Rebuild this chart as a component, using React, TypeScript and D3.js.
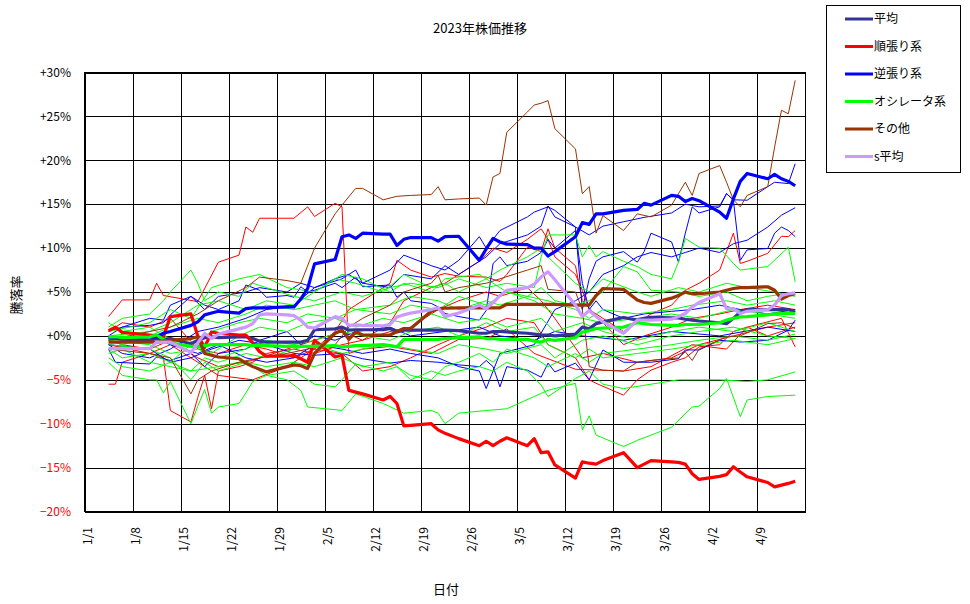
import * as d3 from 'd3';
import { useEffect, useRef } from 'react';

type Pt = [string, number];

// trading days (Tokyo market) covered by the chart
const tradingDays = [
  '1/4', '1/5', '1/6', '1/10', '1/11', '1/12', '1/13', '1/16', '1/17', '1/18', '1/19', '1/20', '1/23', '1/24', '1/25', '1/26', '1/27', '1/30', '1/31',
  '2/1', '2/2', '2/3', '2/6', '2/7', '2/8', '2/9', '2/10', '2/13', '2/14', '2/15', '2/16', '2/17', '2/20', '2/21', '2/22', '2/24', '2/27', '2/28',
  '3/1', '3/2', '3/3', '3/6', '3/7', '3/8', '3/9', '3/10', '3/13', '3/14', '3/15', '3/16', '3/17', '3/20', '3/22', '3/23', '3/24', '3/27', '3/28', '3/29', '3/30', '3/31',
  '4/3', '4/4', '4/5', '4/6', '4/7', '4/10', '4/11', '4/12', '4/13', '4/14',
];

// group averages (%), one value per trading day
const avgAll = [
  -0.2, -0.3, -0.4, -0.5, -0.3, -0.4, -0.3, -0.9, -0.5, -0.2, -0.1, -0.2, -0.1, -0.1, -0.3, -0.6, -0.7, -0.7, -0.7,
  -0.7, -0.5, 0.7, 0.8, 1.0, 0.65, 0.7, 0.7, 0.7, 0.84, 0.46, 0.65, 0.65, 0.65, 0.65, 0.65, 0.6, 0.3, 0.3,
  0.5, 0.5, 0.45, 0.3, 0.2, 0.1, 0.1, 0.0, 0.2, 1.0, 0.8, 1.4, 1.6, 2.1, 1.8, 2.0, 2.1, 2.05, 2.05, 1.9, 1.8, 1.7,
  1.5, 1.4, 2.0, 2.7, 3.0, 3.0, 3.0, 3.0, 3.0, 2.7,
];
const avgTrend = [
  0.6, 1.0, 0.4, 0.1, 0.0, -0.1, 2.2, 2.5, 0.0, -1.3, 0.45, 0.3, 0.1, 0.1, -0.8, -1.8, -2.3, -2.3, -2.2,
  -2.6, -3.0, -0.5, -2.4, -2.2, -6.2, -6.4, -6.6, -7.3, -6.9, -7.7, -10.25, -10.2, -10.0, -10.7, -11.1, -11.7, -12.5, -12.0,
  -12.5, -12.0, -11.6, -12.5, -11.7, -13.3, -13.2, -14.7, -16.2, -14.35, -14.5, -14.6, -14.2, -13.3, -15.0, -14.6, -14.2, -14.35, -14.4, -14.6, -15.7, -16.35,
  -16.0, -15.8, -14.9, -15.5, -16.05, -16.7, -17.2, -17.0, -16.8, -16.55,
];
const avgContra = [
  -0.2, -0.2, -0.2, -0.1, -0.1, 0.3, 0.5, 1.2, 1.6, 2.4, 2.6, 2.8, 2.6, 3.1, 3.2, 3.2, 3.2, 3.3, 3.3,
  4.2, 5.4, 8.2, 8.7, 11.3, 11.5, 11.1, 11.7, 11.6, 11.6, 10.3, 11.0, 11.2, 11.2, 10.8, 11.3, 11.35, 8.6, 9.9,
  11.1, 10.7, 10.45, 10.4, 10.0, 10.0, 9.1, 9.6, 11.3, 12.9, 12.7, 13.9, 13.9, 14.3, 14.4, 15.1, 14.9, 16.0, 15.9, 15.3, 15.65, 15.4,
  14.1, 13.4, 15.6, 17.6, 18.5, 17.9, 18.4, 17.9, 17.6, 17.1,
];
const avgOsc = [
  -0.1, -0.1, -0.2, -0.1, 0.1, -0.4, -0.8, -1.2, -1.2, -1.1, -1.0, -1.0, -1.0, -1.0, -1.1, -1.1, -1.1, -1.2, -1.2,
  -1.2, -1.2, -1.2, -1.1, -1.25, -1.2, -1.1, -1.1, -1.0, -1.1, -1.25, -0.4, -0.4, -0.4, -0.4, -0.3, -0.2, -0.1, -0.3,
  -0.3, -0.4, -0.4, -0.4, -0.6, -0.7, -0.4, -0.5, -0.2, 0.45, 0.6, 0.84, 0.9, 1.0, 1.5, 1.4, 1.3, 1.2, 1.2, 1.3, 1.3, 1.3,
  1.5, 1.8, 2.0, 2.16, 2.2, 2.4, 2.5, 2.55, 2.6, 2.55,
];
const avgOther = [
  -0.7, -0.7, -0.7, -0.7, -0.7, -0.6, -0.5, -0.3, -0.1, -2.0, -2.2, -2.4, -2.6, -3.1, -3.5, -3.8, -4.1, -3.5, -3.3,
  -3.4, -3.7, -2.0, 0.3, 0.65, -0.4, 0.46, 0.1, 0.1, 0.1, 0.5, 0.84, 0.84, 2.8, 3.1, 3.15, 3.2, 3.2, 3.2,
  3.2, 3.2, 3.6, 3.6, 3.6, 3.6, 3.6, 3.6, 3.5, 3.5, 3.5, 4.6, 5.4, 5.3, 4.1, 3.8, 3.7, 4.3, 4.6, 5.0, 4.8, 4.8,
  5.0, 5.2, 5.4, 5.5, 5.5, 5.6, 5.2, 4.2, 4.6, 4.8,
];
const avgS = [
  -1.45, -1.45, -1.45, -1.45, -0.7, -0.7, -0.7, -1.9, -0.8, 0.27, -0.3, 0.2, 0.8, 1.0, 1.4, 2.4, 2.5, 2.4, 2.3,
  1.8, 1.0, 0.9, 2.2, 2.0, 1.2, 1.25, 1.2, 1.14, 1.3, 2.16, 2.4, 2.6, 3.0, 3.2, 2.2, 2.6, 3.5, 3.1,
  3.8, 4.6, 5.2, 5.5, 5.9, 6.7, 7.3, 6.4, 3.5, 2.2, 2.9, 2.2, 1.6, 0.3, 1.8, 1.8, 1.8, 1.9, 2.2, 2.55, 3.3, 3.8,
  4.8, 3.1, 3.1, 2.55, 2.8, 3.0, 3.5, 4.6, 4.8, 4.9,
];

// individual issues (%), [date, value]
const trendA: Pt[] = [['1/4', 2.2], ['1/6', 4.1], ['1/10', 4.1], ['1/11', 6.0], ['1/12', 4.6], ['1/17', 3.9], ['1/20', 8.4], ['1/23', 9.2], ['1/24', 12.4], ['1/25', 11.8], ['1/26', 13.4], ['1/31', 13.4], ['2/2', 14.7], ['2/3', 13.6], ['2/6', 15.1], ['2/7', 14.7], ['2/8', -2.0], ['2/10', -1.5], ['2/14', -1.2], ['2/20', -2.0], ['2/24', -0.4], ['2/28', -0.3], ['3/3', 0.8], ['3/7', -2.0], ['3/13', -3.8], ['3/20', -4.0], ['3/24', -3.5], ['3/30', -1.0], ['4/4', -1.5], ['4/7', 1.0], ['4/12', 2.0], ['4/14', -1.25]];
const trendB: Pt[] = [['1/4', -0.5], ['1/6', -1.0], ['1/10', -1.5], ['1/13', -0.5], ['1/17', -2.5], ['1/20', -3.5], ['1/25', -2.8], ['1/30', -1.5], ['2/3', -0.5], ['2/7', 0.5], ['2/10', -0.5], ['2/14', 1.5], ['2/16', 4.0], ['2/20', 5.5], ['2/22', 6.0], ['2/24', 7.0], ['2/27', 8.5], ['3/1', 10.0], ['3/3', 9.5], ['3/6', 11.0], ['3/8', 12.2], ['3/9', 11.0], ['3/10', 9.0], ['3/13', 7.0], ['3/14', 5.2], ['3/15', 3.0], ['3/17', 2.0], ['3/20', 0.5], ['3/22', 1.5], ['3/24', 2.5], ['3/27', 3.5], ['3/29', 5.2], ['3/31', 6.0], ['4/3', 7.5], ['4/4', 9.6], ['4/5', 11.7], ['4/6', 8.25], ['4/7', 8.5], ['4/10', 9.4], ['4/12', 11.35], ['4/13', 11.3], ['4/14', 12.0]];
const trendC: Pt[] = [['1/4', -5.5], ['1/5', -5.5], ['1/6', -3.0], ['1/10', -2.0], ['1/12', -2.5], ['1/13', -8.5], ['1/16', -9.8], ['1/17', -7.0], ['1/18', -4.5], ['1/19', -8.3], ['1/20', -4.0], ['1/23', -3.5], ['1/25', -3.0], ['1/27', -2.0], ['1/31', -1.5], ['2/3', -2.0], ['2/7', -1.0], ['2/10', -0.5], ['2/14', 0.5], ['2/17', 1.0], ['2/21', 3.0], ['2/24', 4.0], ['2/28', 5.0], ['3/2', 4.5], ['3/6', 5.5], ['3/8', 4.0], ['3/10', 2.0], ['3/14', -2.5], ['3/17', -2.0], ['3/22', -3.0], ['3/27', -2.5], ['3/31', -1.0], ['4/5', 0.0], ['4/10', 1.0], ['4/14', 1.5]];
const trendD: Pt[] = [['1/4', 0.5], ['1/6', 1.5], ['1/10', 1.0], ['1/13', 2.0], ['1/17', -1.5], ['1/20', -2.0], ['1/24', -1.0], ['1/27', -1.5], ['1/31', -2.5], ['2/3', -1.5], ['2/6', 0.5], ['2/8', 3.0], ['2/10', 4.0], ['2/14', 6.0], ['2/15', 8.6], ['2/17', 7.5], ['2/20', 6.7], ['2/22', 7.1], ['2/24', 6.8], ['2/28', 6.7], ['3/2', 6.2], ['3/3', 7.0], ['3/6', 10.1], ['3/8', 9.6], ['3/9', 12.2], ['3/10', 10.0], ['3/13', 8.0], ['3/14', 4.0], ['3/17', 1.5], ['3/20', -1.0], ['3/23', 0.0], ['3/27', 1.0], ['3/30', 2.0], ['4/3', 2.5], ['4/6', 3.0], ['4/10', 3.5], ['4/14', 3.0]];
const trendE: Pt[] = [['1/4', -1.0], ['1/10', -2.0], ['1/13', -1.0], ['1/17', -3.0], ['1/20', -4.5], ['1/25', -5.0], ['1/30', -3.5], ['2/3', -1.5], ['2/7', -2.0], ['2/10', -4.0], ['2/14', -3.5], ['2/17', -2.5], ['2/21', -1.0], ['2/24', 0.0], ['2/28', 1.0], ['3/3', 2.0], ['3/7', 1.5], ['3/9', -1.0], ['3/13', -2.5], ['3/15', -5.0], ['3/16', -5.4], ['3/20', -6.75], ['3/22', -5.0], ['3/24', -3.9], ['3/27', -3.0], ['3/29', -2.5], ['3/31', -1.25], ['4/3', -1.0], ['4/5', 0.5], ['4/7', 1.0], ['4/10', 0.0], ['4/12', 0.5], ['4/14', 1.0]];

const contraA: Pt[] = [['1/4', 0.5], ['1/6', 1.0], ['1/10', 2.0], ['1/12', 1.8], ['1/13', 3.5], ['1/16', 4.5], ['1/18', 3.0], ['1/20', 4.5], ['1/24', 5.0], ['1/26', 5.5], ['1/30', 5.0], ['2/1', 6.0], ['2/3', 5.5], ['2/6', 6.5], ['2/8', 7.0], ['2/10', 6.0], ['2/14', 7.5], ['2/16', 9.2], ['2/20', 8.0], ['2/22', 7.5], ['2/24', 8.6], ['2/27', 11.3], ['2/28', 10.0], ['3/2', 12.0], ['3/6', 13.55], ['3/7', 14.1], ['3/9', 14.7], ['3/10', 14.3], ['3/13', 12.4], ['3/15', 11.5], ['3/17', 12.5], ['3/20', 13.0], ['3/23', 13.5], ['3/27', 14.0], ['3/29', 15.0], ['3/31', 14.7], ['4/3', 14.8], ['4/4', 16.2], ['4/5', 15.5], ['4/7', 15.45], ['4/10', 17.0], ['4/11', 17.5], ['4/13', 17.35], ['4/14', 19.6]];
const contraB: Pt[] = [['1/4', -1.0], ['1/6', -2.0], ['1/10', -2.5], ['1/13', -1.5], ['1/17', 0.5], ['1/20', 1.0], ['1/24', 2.0], ['1/27', 3.0], ['1/31', 3.5], ['2/3', 5.5], ['2/7', 6.5], ['2/9', 7.5], ['2/10', 6.0], ['2/14', 5.5], ['2/16', 7.0], ['2/20', 6.5], ['2/22', 8.0], ['2/24', 7.0], ['2/28', 9.0], ['3/2', 10.5], ['3/6', 11.5], ['3/8', 12.5], ['3/9', 14.8], ['3/10', 13.55], ['3/13', 12.4], ['3/14', 3.0], ['3/15', 6.5], ['3/16', 8.5], ['3/17', 9.0], ['3/20', 9.6], ['3/22', 8.4], ['3/23', 9.6], ['3/24', 11.7], ['3/27', 10.7], ['3/28', 8.4], ['3/29', 11.7], ['3/30', 14.7], ['3/31', 14.0], ['4/3', 14.7], ['4/4', 16.2], ['4/5', 15.45], ['4/6', 8.6], ['4/7', 9.8], ['4/10', 9.95], ['4/11', 11.7], ['4/12', 12.4], ['4/13', 12.0], ['4/14', 11.3]];
const contraC: Pt[] = [['1/4', -0.5], ['1/10', 0.0], ['1/13', -1.0], ['1/17', -2.0], ['1/20', -1.0], ['1/24', -2.5], ['1/27', -3.0], ['1/31', -2.5], ['2/3', -1.0], ['2/7', -1.5], ['2/10', -2.0], ['2/14', -1.5], ['2/17', -2.0], ['2/21', -2.5], ['2/24', -3.5], ['2/27', -4.0], ['2/28', -6.0], ['3/2', -2.0], ['3/7', -1.0], ['3/10', 3.0], ['3/13', 4.0], ['3/15', 5.0], ['3/17', 7.0], ['3/20', 8.0], ['3/22', 9.0], ['3/24', 9.5], ['3/27', 9.0], ['3/29', 9.5], ['3/31', 10.0], ['4/3', 9.5], ['4/5', 10.5], ['4/7', 10.9], ['4/10', 12.4], ['4/12', 13.75], ['4/14', 14.6]];
const contraD: Pt[] = [['1/4', -1.0], ['1/10', -1.5], ['1/13', -3.0], ['1/16', -2.5], ['1/19', -1.5], ['1/23', -0.5], ['1/27', -1.0], ['1/31', -2.0], ['2/3', -2.2], ['2/7', -2.0], ['2/10', -2.6], ['2/14', -3.1], ['2/17', -2.8], ['2/21', -3.0], ['2/24', -3.3], ['2/27', -3.5], ['2/28', -2.8], ['3/1', -3.5], ['3/2', -5.8], ['3/3', -3.5], ['3/6', -3.9], ['3/8', -4.7], ['3/9', -3.1], ['3/10', -4.1], ['3/13', -3.1], ['3/15', -5.0], ['3/17', -1.6], ['3/20', -3.0], ['3/24', -3.0], ['3/28', -2.6], ['3/29', -1.6], ['3/31', -1.6], ['4/3', -0.5], ['4/6', -0.7], ['4/10', -0.5], ['4/13', 0.65], ['4/14', 1.8]];
const contraE: Pt[] = [['1/4', 0.0], ['1/6', 1.0], ['1/10', 1.2], ['1/12', 1.5], ['1/13', 2.4], ['1/16', 4.5], ['1/18', 3.5], ['1/20', 3.0], ['1/23', 4.0], ['1/24', 5.8], ['1/26', 5.2], ['1/27', 4.4], ['1/30', 4.6], ['1/31', 4.4], ['2/1', 5.6], ['2/2', 5.0], ['2/3', 5.2], ['2/6', 6.0], ['2/7', 5.5], ['2/9', 6.7], ['2/10', 5.6], ['2/14', 5.8], ['2/15', 4.4], ['2/16', 5.0], ['2/17', 4.0], ['2/20', 3.7], ['2/21', 3.3], ['2/22', 2.55], ['2/24', 2.2], ['2/27', 1.8], ['2/28', 2.9], ['3/1', 8.25], ['3/2', 9.0], ['3/3', 8.0], ['3/6', 8.5], ['3/8', 9.5], ['3/9', 11.0], ['3/10', 10.0], ['3/13', 12.0], ['3/14', 6.0], ['3/15', 3.0], ['3/16', 4.0], ['3/17', 3.0], ['3/20', 2.0], ['3/23', 2.5], ['3/27', 2.8], ['3/30', 3.0], ['4/3', 3.5], ['4/6', 3.0], ['4/10', 2.5], ['4/14', 3.0]];
const contraF: Pt[] = [['1/4', -1.5], ['1/5', -3.0], ['1/10', -3.2], ['1/11', -2.4], ['1/13', -2.8], ['1/16', -2.0], ['1/18', -3.5], ['1/20', -2.0], ['1/24', -1.5], ['1/26', -0.5], ['1/30', 0.5], ['2/1', -1.0], ['2/3', 0.0], ['2/6', -0.5], ['2/9', 0.5], ['2/14', 1.0], ['2/17', 0.0], ['2/22', 0.5], ['2/27', 1.0], ['3/2', 0.0], ['3/7', -0.5], ['3/10', 0.5], ['3/14', 0.0], ['3/20', -0.5], ['3/27', 0.5], ['4/3', 0.0], ['4/10', 1.0], ['4/14', 0.5]];

const oscA: Pt[] = [['1/4', 1.0], ['1/6', 2.0], ['1/10', 2.5], ['1/12', 4.0], ['1/13', 5.0], ['1/16', 7.5], ['1/17', 6.0], ['1/18', 4.0], ['1/20', 5.0], ['1/23', 4.5], ['1/25', 6.0], ['1/27', 5.5], ['1/31', 4.5], ['2/3', 4.0], ['2/7', 5.0], ['2/10', 4.5], ['2/14', 5.5], ['2/17', 6.0], ['2/21', 5.5], ['2/24', 6.5], ['2/28', 5.5], ['3/3', 6.0], ['3/7', 5.5], ['3/8', 9.0], ['3/9', 11.5], ['3/10', 11.5], ['3/13', 11.5], ['3/14', 9.0], ['3/15', 10.3], ['3/16', 9.0], ['3/17', 9.6], ['3/20', 8.5], ['3/22', 7.9], ['3/24', 7.0], ['3/27', 6.5], ['3/28', 8.4], ['3/29', 11.1], ['3/31', 10.1], ['4/3', 10.0], ['4/5', 8.25], ['4/6', 7.5], ['4/10', 7.9], ['4/13', 10.1], ['4/14', 6.15]];
const oscB: Pt[] = [['1/4', 0.5], ['1/10', 1.5], ['1/13', 3.0], ['1/16', 2.0], ['1/19', 5.5], ['1/23', 6.5], ['1/26', 7.0], ['1/30', 5.5], ['2/3', 5.0], ['2/7', 7.0], ['2/10', 6.5], ['2/14', 5.0], ['2/16', 6.0], ['2/20', 5.0], ['2/22', 6.5], ['2/27', 7.0], ['3/1', 6.0], ['3/3', 5.0], ['3/6', 4.5], ['3/8', 5.5], ['3/10', 4.0], ['3/13', 3.5], ['3/15', 4.0], ['3/17', 5.0], ['3/20', 7.9], ['3/22', 7.3], ['3/24', 5.2], ['3/28', 5.0], ['3/31', 4.5], ['4/4', 5.0], ['4/7', 4.0], ['4/10', 4.5], ['4/14', 5.0]];
const oscC: Pt[] = [['1/4', -0.5], ['1/6', -1.0], ['1/10', 0.0], ['1/13', 1.0], ['1/17', 2.0], ['1/20', 1.5], ['1/24', 2.5], ['1/27', 3.5], ['1/31', 3.0], ['2/3', 3.5], ['2/6', 4.0], ['2/9', 3.0], ['2/14', 3.5], ['2/17', 4.5], ['2/21', 4.0], ['2/24', 3.0], ['2/28', 4.0], ['3/2', 3.5], ['3/6', 4.5], ['3/9', 4.0], ['3/13', 3.0], ['3/15', 2.0], ['3/17', 3.0], ['3/22', 2.5], ['3/27', 3.0], ['3/30', 3.5], ['4/4', 4.0], ['4/7', 3.5], ['4/11', 4.0], ['4/14', 3.5]];
const oscD: Pt[] = [['1/4', -1.5], ['1/6', -2.5], ['1/10', -2.0], ['1/13', -3.0], ['1/16', -1.0], ['1/19', -2.0], ['1/23', 0.0], ['1/26', 1.0], ['1/30', 0.5], ['2/2', 1.5], ['2/6', 2.0], ['2/9', 1.0], ['2/13', 2.0], ['2/16', 1.5], ['2/20', 2.5], ['2/24', 1.5], ['2/28', 2.0], ['3/3', 1.0], ['3/8', 2.0], ['3/10', 0.5], ['3/14', 1.5], ['3/17', 0.5], ['3/22', -0.5], ['3/27', 0.5], ['3/31', 1.0], ['4/5', 0.5], ['4/10', 1.5], ['4/14', 0.5]];
const oscE: Pt[] = [['1/4', -2.0], ['1/6', -1.5], ['1/10', -3.0], ['1/13', -3.5], ['1/16', -4.0], ['1/18', -2.5], ['1/20', -3.0], ['1/24', -2.0], ['1/27', -2.5], ['1/31', -1.5], ['2/3', -1.0], ['2/7', -2.0], ['2/10', -1.5], ['2/14', -1.0], ['2/17', -1.5], ['2/21', -2.0], ['2/24', -1.0], ['2/28', -1.5], ['3/3', -2.0], ['3/8', -1.0], ['3/10', -2.5], ['3/14', -0.5], ['3/17', 0.0], ['3/22', -1.0], ['3/27', 0.0], ['3/31', 0.5], ['4/5', 1.0], ['4/10', 0.0], ['4/14', -0.3]];
const oscF: Pt[] = [['1/4', -3.0], ['1/6', -4.5], ['1/10', -5.0], ['1/11', -5.0], ['1/12', -6.5], ['1/13', -5.2], ['1/16', -10.0], ['1/17', -8.0], ['1/18', -6.1], ['1/19', -8.8], ['1/20', -8.1], ['1/23', -7.7], ['1/24', -6.5], ['1/25', -5.2], ['1/27', -4.5], ['1/31', -4.0], ['2/3', -5.5], ['2/6', -5.8], ['2/7', -5.0], ['2/9', -3.2], ['2/13', -4.0], ['2/15', -3.5], ['2/17', -5.0], ['2/20', -4.0], ['2/22', -4.5], ['2/24', -4.0], ['2/27', -3.5], ['3/1', -4.0], ['3/3', -3.0], ['3/6', -4.0], ['3/8', -5.6], ['3/9', -6.9], ['3/13', -4.85], ['3/15', -4.0], ['3/17', -5.5], ['3/20', -6.0], ['3/24', -5.5], ['3/28', -5.0], ['4/3', -5.0], ['4/7', -5.2], ['4/10', -5.0], ['4/14', -4.1]];
const oscG: Pt[] = [['1/4', -2.5], ['1/6', -3.5], ['1/10', -4.0], ['1/13', -3.0], ['1/16', -4.0], ['1/20', -3.5], ['1/23', -3.0], ['1/25', -3.5], ['1/27', -4.5], ['1/30', -5.0], ['2/1', -6.2], ['2/2', -8.1], ['2/6', -8.4], ['2/7', -8.5], ['2/9', -6.6], ['2/13', -7.7], ['2/16', -8.8], ['2/20', -8.5], ['2/21', -8.8], ['2/22', -10.0], ['2/24', -8.8], ['2/28', -8.5], ['3/3', -8.3], ['3/7', -6.9], ['3/9', -6.2], ['3/13', -5.4], ['3/14', -10.7], ['3/15', -9.1], ['3/16', -11.3], ['3/20', -12.6], ['3/22', -11.9], ['3/27', -10.4], ['3/30', -8.1], ['3/31', -8.0], ['4/3', -6.0], ['4/4', -4.85], ['4/6', -9.2], ['4/7', -7.3], ['4/10', -6.9], ['4/14', -6.75]];
const oscH: Pt[] = [['1/4', -1.0], ['1/10', -1.5], ['1/13', -2.5], ['1/16', -5.0], ['1/18', -3.0], ['1/20', -4.0], ['1/24', -3.0], ['1/27', -3.5], ['1/31', -3.0], ['2/3', -3.5], ['2/7', -2.5], ['2/10', -3.5], ['2/14', -3.0], ['2/17', -4.5], ['2/20', -5.0], ['2/22', -3.5], ['2/24', -3.0], ['2/27', -2.0], ['3/1', -3.0], ['3/3', -1.5], ['3/7', -2.5], ['3/9', -3.5], ['3/13', -2.0], ['3/15', -3.0], ['3/17', -2.0], ['3/22', -1.5], ['3/27', -1.0], ['3/31', -0.5], ['4/5', 0.0], ['4/10', -0.5], ['4/14', 0.2]];
const oscI: Pt[] = [['1/4', 0.0], ['1/10', 0.5], ['1/13', 1.5], ['1/17', 3.5], ['1/20', 4.0], ['1/24', 3.0], ['1/27', 4.0], ['1/31', 3.5], ['2/3', 5.0], ['2/6', 6.5], ['2/9', 6.0], ['2/13', 5.0], ['2/16', 7.0], ['2/20', 5.5], ['2/22', 6.0], ['2/24', 5.0], ['2/28', 6.5], ['3/2', 7.5], ['3/6', 9.0], ['3/8', 10.0], ['3/9', 9.0], ['3/13', 6.0], ['3/15', 5.0], ['3/17', 6.5], ['3/22', 5.0], ['3/24', 4.5], ['3/28', 5.5], ['3/31', 5.0], ['4/4', 6.0], ['4/7', 5.5], ['4/11', 5.0], ['4/14', 4.5]];
const oscJ: Pt[] = [['1/4', 1.5], ['1/6', 0.5], ['1/10', 1.0], ['1/12', 0.0], ['1/16', -1.0], ['1/19', 0.5], ['1/23', 1.5], ['1/26', 2.0], ['1/30', 1.5], ['2/2', 2.5], ['2/6', 2.0], ['2/9', 3.0], ['2/14', 2.5], ['2/17', 3.5], ['2/21', 3.0], ['2/24', 4.5], ['2/28', 3.5], ['3/3', 5.0], ['3/7', 4.0], ['3/10', 2.5], ['3/14', 2.0], ['3/17', 1.5], ['3/22', 2.0], ['3/27', 2.5], ['3/31', 2.0], ['4/5', 3.0], ['4/10', 2.5], ['4/14', 2.0]];
const oscK: Pt[] = [['1/4', -0.5], ['1/10', -1.0], ['1/13', -2.0], ['1/17', -1.5], ['1/20', -2.5], ['1/24', -1.5], ['1/27', -0.5], ['1/31', -1.0], ['2/3', -0.5], ['2/7', 0.5], ['2/10', 0.0], ['2/14', -0.5], ['2/17', 0.5], ['2/21', 1.0], ['2/24', 0.0], ['2/28', 1.5], ['3/3', 0.5], ['3/7', 1.0], ['3/9', -1.0], ['3/13', -2.5], ['3/15', -1.5], ['3/17', -2.5], ['3/22', -2.0], ['3/27', -1.5], ['3/31', -1.0], ['4/5', -0.5], ['4/10', -1.0], ['4/14', -0.3]];

const otherA: Pt[] = [['1/4', -0.5], ['1/10', 0.5], ['1/13', 1.0], ['1/17', 2.5], ['1/20', 4.0], ['1/24', 5.5], ['1/26', 6.7], ['1/30', 6.3], ['2/1', 6.0], ['2/3', 10.0], ['2/6', 13.9], ['2/7', 14.9], ['2/9', 16.8], ['2/10', 16.8], ['2/13', 15.5], ['2/15', 15.9], ['2/17', 16.0], ['2/20', 16.1], ['2/21', 17.0], ['2/22', 15.5], ['2/24', 15.6], ['2/27', 15.7], ['2/28', 14.9], ['3/1', 18.1], ['3/2', 18.5], ['3/3', 23.2], ['3/6', 25.5], ['3/7', 26.3], ['3/8', 26.5], ['3/9', 26.8], ['3/10', 23.6], ['3/13', 21.3], ['3/14', 16.2], ['3/15', 17.0], ['3/16', 11.7], ['3/17', 13.7], ['3/20', 12.0], ['3/22', 13.9], ['3/24', 13.55], ['3/27', 14.9], ['3/29', 17.5], ['3/30', 16.0], ['3/31', 18.5], ['4/3', 19.4], ['4/4', 17.5], ['4/5', 15.5], ['4/6', 14.7], ['4/7', 16.0], ['4/10', 17.0], ['4/11', 21.5], ['4/12', 25.7], ['4/13', 25.3], ['4/14', 29.1]];
const otherB: Pt[] = [['1/4', -1.5], ['1/10', -2.0], ['1/13', -2.5], ['1/16', -6.6], ['1/17', -5.0], ['1/19', -4.0], ['1/23', -3.0], ['1/26', -2.5], ['1/30', -2.0], ['2/2', -1.5], ['2/6', -1.0], ['2/8', 1.0], ['2/10', 2.0], ['2/14', 3.5], ['2/16', 5.0], ['2/20', 6.0], ['2/21', 6.9], ['2/22', 5.0], ['2/24', 5.5], ['2/28', 6.0], ['3/2', 6.5], ['3/6', 7.5], ['3/8', 8.0], ['3/9', 5.3], ['3/13', 5.0], ['3/14', 3.0], ['3/15', -3.5], ['3/17', -3.9], ['3/20', -4.0], ['3/22', -3.0], ['3/24', -2.8], ['3/28', -2.5], ['3/29', -1.8], ['3/30', -2.8], ['3/31', -1.5], ['4/4', -0.1], ['4/6', 0.0], ['4/10', 1.4], ['4/12', 1.5], ['4/14', 0.84]];

const seriesNames = ['平均', '順張り系', '逆張り系', 'オシレータ系', 'その他', 's平均'];
const seriesColors = ['#333399', '#ff0000', '#0000ff', '#00ff00', '#993300', '#cc99ff'];
const thickSeries = [avgAll, avgTrend, avgContra, avgOsc, avgOther, avgS];
const thinGroups: { color: string; lines: Pt[][] }[] = [
  { color: '#ff0000', lines: [trendA, trendB, trendC, trendD, trendE] },
  { color: '#0000ff', lines: [contraA, contraB, contraC, contraD, contraE, contraF] },
  { color: '#00ff00', lines: [oscA, oscB, oscC, oscD, oscE, oscF, oscG, oscH, oscI, oscJ, oscK] },
  { color: '#993300', lines: [otherA, otherB] },
];
const yTicks = [30, 25, 20, 15, 10, 5, 0, -5, -10, -15, -20];

const FONT = '"Noto Sans CJK JP", "DejaVu Sans", sans-serif';

const toDate = (s: string) => {
  const [m, d] = s.split('/').map(Number);
  return new Date(2023, m - 1, d, 12);
};

export default function App() {
  const ref = useRef<SVGSVGElement>(null);

  useEffect(() => {
    const svg = d3.select(ref.current);
    svg.selectAll('*').remove();

    const start = new Date(2023, 0, 1);
    const x = d3.scaleTime().domain([start, new Date(2023, 3, 16)]).range([84.5, 805.5]);
    const y = d3.scaleLinear().domain([-20, 30]).range([511.5, 72.5]);

    // grid + frame
    const grid = svg.append('g').attr('shape-rendering', 'crispEdges').attr('stroke', '#000').attr('stroke-width', 1);
    const weekTicks = d3.range(15).map((i) => d3.timeDay.offset(start, i * 7));
    grid.selectAll('line.v').data(weekTicks).join('line')
      .attr('x1', (d) => Math.round(x(d)) + 0.5).attr('x2', (d) => Math.round(x(d)) + 0.5)
      .attr('y1', y(30)).attr('y2', y(-20));
    grid.selectAll('line.h').data(yTicks).join('line')
      .attr('x1', x.range()[0]).attr('x2', x.range()[1])
      .attr('y1', (d) => Math.round(y(d)) + 0.5).attr('y2', (d) => Math.round(y(d)) + 0.5);
    grid.append('rect').attr('x', 84.5).attr('y', 72.5).attr('width', 721).attr('height', 439).attr('fill', 'none');

    // y labels
    svg.append('g').selectAll('text').data(yTicks).join('text')
      .attr('x', 71).attr('y', (d) => y(d)).attr('dy', '0.35em').attr('text-anchor', 'end')
      .attr('font-family', FONT).attr('font-size', 12)
      .attr('fill', (d) => (d < 0 ? '#ff0000' : '#000'))
      .text((d) => (d < 0 ? `−${-d}%` : `+${d}%`));

    // x labels (vertical)
    const fmt = d3.timeFormat('%-m/%-d');
    svg.append('g').selectAll('text').data(weekTicks).join('text')
      .attr('transform', (d) => `translate(${x(d) + 3},527) rotate(-90)`)
      .attr('text-anchor', 'end').attr('dy', '0.35em')
      .attr('font-family', FONT).attr('font-size', 12)
      .text((d) => fmt(d));

    const line = d3.line<Pt>().x((d) => x(toDate(d[0]))).y((d) => y(d[1]));

    // individual issues
    thinGroups.forEach((g) => {
      svg.append('g').selectAll('path').data(g.lines).join('path')
        .attr('d', (d) => line(d)).attr('fill', 'none').attr('stroke', g.color).attr('stroke-width', 1);
    });

    // averages
    thickSeries.forEach((vals, i) => {
      const pts: Pt[] = vals.map((v, j) => [tradingDays[j], v]);
      svg.append('path').attr('d', line(pts)).attr('fill', 'none')
        .attr('stroke', seriesColors[i]).attr('stroke-width', 3.2).attr('stroke-linejoin', 'round');
    });

    // titles
    svg.append('text').attr('x', 480).attr('y', 33).attr('text-anchor', 'middle')
      .attr('font-family', FONT).attr('font-size', 13).text('2023年株価推移');
    svg.append('text').attr('x', 446).attr('y', 594).attr('text-anchor', 'middle')
      .attr('font-family', FONT).attr('font-size', 13).text('日付');
    svg.append('text').attr('transform', 'translate(16,295) rotate(-90)').attr('text-anchor', 'middle').attr('dy', '0.35em')
      .attr('font-family', FONT).attr('font-size', 13).text('騰落率');

    // legend
    const lg = svg.append('g');
    lg.append('rect').attr('x', 826.5).attr('y', 5.5).attr('width', 134).attr('height', 167)
      .attr('fill', '#fff').attr('stroke', '#000').attr('shape-rendering', 'crispEdges');
    seriesNames.forEach((name, i) => {
      const cy = 19 + i * 27.5;
      lg.append('line').attr('x1', 845).attr('x2', 873).attr('y1', cy).attr('y2', cy)
        .attr('stroke', seriesColors[i]).attr('stroke-width', 3);
      lg.append('text').attr('x', 874).attr('y', cy).attr('dy', '0.35em')
        .attr('font-family', FONT).attr('font-size', 12).text(name);
    });
  }, []);

  return (
    <svg ref={ref} width={970} height={604} style={{ position: 'absolute', left: 0, top: 0, background: '#fff' }} />
  );
}
